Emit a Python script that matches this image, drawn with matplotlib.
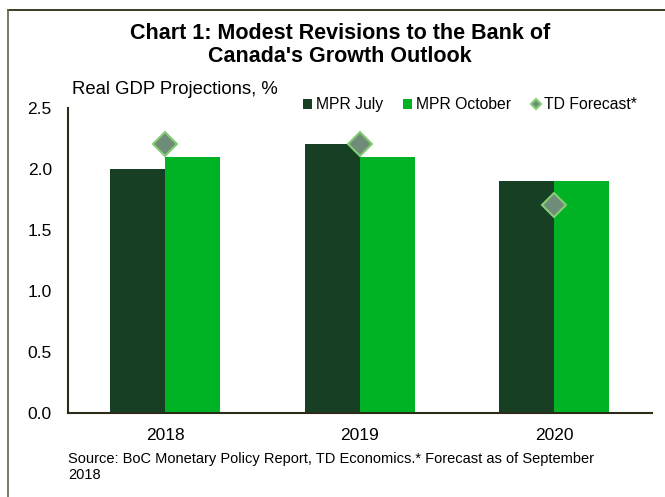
import matplotlib.pyplot as plt
from matplotlib.lines import Line2D
import numpy as np

plt.rcParams['font.family'] = ['Liberation Sans', 'DejaVu Sans']

years = ["2018", "2019", "2020"]
mpr_july = [2.0, 2.2, 1.9]
mpr_october = [2.1, 2.1, 1.9]
td_forecast = [2.2, 2.2, 1.7]

dark_green = "#173F24"
bright_green = "#00B324"

fig = plt.figure(figsize=(6.65, 4.97), dpi=100)
ax = fig.add_axes([0.102, 0.169, 0.878, 0.614])

x = np.arange(len(years))
w = 0.283
b1 = ax.bar(x - w / 2, mpr_july, w, color=dark_green, label="MPR July")
b2 = ax.bar(x + w / 2, mpr_october, w, color=bright_green, label="MPR October")
p1, = ax.plot(x, td_forecast, ls="none", marker="D", ms=12, mfc="#6E8C78",
              mec="#86CC76", mew=1.5, label="TD Forecast*")

ax.set_xlim(-0.5, 2.5)
ax.set_ylim(0, 2.5)
ax.set_yticks(np.arange(0, 2.51, 0.5))
ax.set_yticklabels([f"{v:.1f}" for v in np.arange(0, 2.51, 0.5)])
ax.set_xticks(x)
ax.set_xticklabels(years)
ax.tick_params(axis="both", length=0, labelsize=12.5)
ax.tick_params(axis="y", pad=11.5)
ax.tick_params(axis="x", pad=10.5)
for s in ["top", "right"]:
    ax.spines[s].set_visible(False)
for s in ["left", "bottom"]:
    ax.spines[s].set_color("#2B2B18")
    ax.spines[s].set_linewidth(1.5)

fig.text(0.511, 0.910, "Chart 1: Modest Revisions to the Bank of\nCanada's Growth Outlook",
         ha="center", va="center", fontsize=15.5, fontweight="bold", linespacing=1.15)
fig.text(0.108, 0.819, "Real GDP Projections, %", fontsize=13.3, va="center")

fig.legend([b1, b2, p1], ["MPR July", "MPR October", "TD Forecast*"],
           loc="center left", bbox_to_anchor=(0.456, 0.789), ncol=3, frameon=False,
           fontsize=11.3, handlelength=0.55, handleheight=0.55, handletextpad=0.25,
           columnspacing=1.3, markerscale=0.45, borderaxespad=0, borderpad=0)

fig.text(0.102, 0.061, "Source: BoC Monetary Policy Report, TD Economics.* Forecast as of September\n2018",
         fontsize=10.5, va="center", linespacing=1.17)

# frame
fig.add_artist(Line2D([0.012, 1.0], [0.980, 0.980], color="#2B2B14", lw=1.3))
fig.add_artist(Line2D([0.012, 0.012], [0.0, 0.980], color="#6E6E58", lw=1.3))

fig.savefig("out.png", dpi=100)
